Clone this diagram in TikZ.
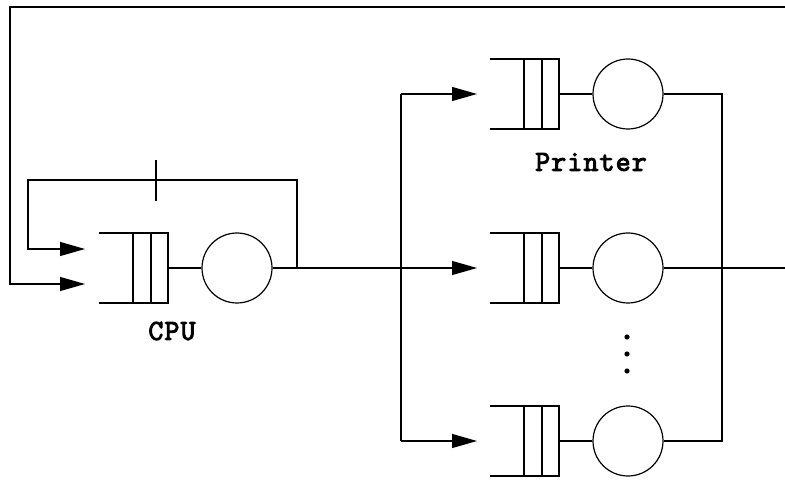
\documentclass[tikz,border=0pt]{standalone}
\usepackage{fontspec}
\newfontfamily\lblfont{Latin Modern Mono}[FakeBold=3.5,LetterSpace=4]
\usetikzlibrary{arrows.meta}
\tikzset{
  srv/.style={circle,draw,minimum size=70pt,inner sep=0pt},
  arr/.style={-{Triangle[length=25pt,width=14pt]}},
  lbl/.style={font=\fontsize{29}{29}\selectfont\lblfont},
  queue/.pic={
    \draw (-69,-35) -- (0,-35) -- (0,35) -- (-69,35);
    \draw (-35,-35) -- (-35,35);
    \draw (-17,-35) -- (-17,35);
    \coordinate (-out) at (0,0);
  },
  every path/.style={line width=1.2pt}
}
\begin{document}
\begin{tikzpicture}[x=1pt,y=-1pt]
\useasboundingbox (0,0) rectangle (785,481);
% CPU
\pic (cq) at (168,268) {queue};
\node[srv] (cpu) at (237,268) {};
\node[lbl] (cpul) at (172,331) {CPU};
% printers
\pic (p1q) at (559,94) {queue};
\node[srv] (p1) at (628,94) {};
\node[lbl] (p1l) at (591,162) {Printer};
\pic (p2q) at (559,268) {queue};
\node[srv] (p2) at (628,268) {};
\pic (p3q) at (559,441) {queue};
\node[srv] (p3) at (628,441) {};
% coordinates
\coordinate (cinA) at (85,249);
\coordinate (cinB) at (85,284);
\coordinate (p1in) at (477,94);
\coordinate (p2in) at (477,268);
\coordinate (p3in) at (477,441);
\coordinate (split1) at (401,94);
\coordinate (split3) at (401,441);
\coordinate (join1) at (722,94);
\coordinate (join3) at (722,441);
\coordinate (outR) at (785,268);
\coordinate (topR) at (785,7);
\coordinate (fbtap) at (297,268);
\coordinate (tickA) at (156,160);
\coordinate (tickB) at (156,201);
% internal links
\draw (cq-out) -- (cpu.west);
\draw (p1q-out) -- (p1.west);
\draw (p2q-out) -- (p2.west);
\draw (p3q-out) -- (p3.west);
% top return loop
\draw[arr] (topR) -- (10,7) -- (10,284) -- (cinB);
% feedback loop
\draw[arr] (fbtap) -- (297,180) -- (28,180) -- (28,249) -- (cinA);
\draw (tickA) -- (tickB);
% CPU output to printers
\draw[arr] (cpu.east) -- (p2in);
\draw (split1) -- (split3);
\draw[arr] (split1) -- (p1in);
\draw[arr] (split3) -- (p3in);
% printer outputs
\draw (p1.east) -- (join1) -- (join3) -- (p3.east);
\draw (p2.east) -- (outR);
% dots
\foreach \yy/\nm in {337/d1,354/d2,371/d3}
  \fill (627,\yy) circle (2.6pt) coordinate (\nm);
\end{tikzpicture}
\end{document}
